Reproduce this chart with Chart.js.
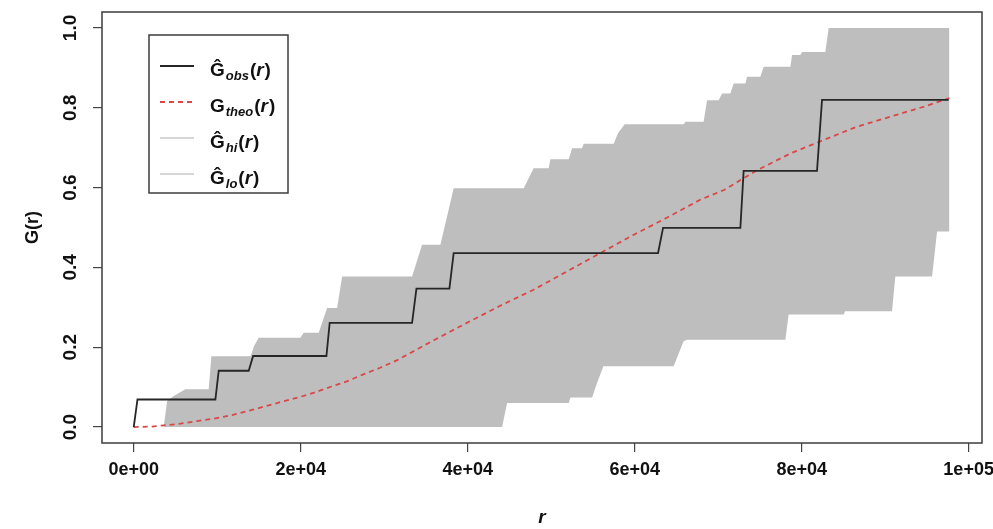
<!DOCTYPE html>
<html>
<head>
<meta charset="utf-8">
<script src="https://cdn.jsdelivr.net/npm/chart.js@4.4.1/dist/chart.umd.min.js"></script>
<style>
  html, body { margin: 0; padding: 0; background: #fff; }
  #wrap { width: 993px; height: 529px; }
</style>
</head>
<body>
<div id="wrap"><canvas id="envChart" width="993" height="529"></canvas></div>
<script>
// G-function envelope, values (r in metres)
const obsR = [0, 450, 9780, 10180, 13770, 14300, 23080, 23470, 33340, 33860, 37810, 38320, 62800, 63400, 72660, 73050, 81840, 82440, 97600];
const obsG = [0, 0.069, 0.069, 0.141, 0.141, 0.178, 0.178, 0.261, 0.261, 0.347, 0.347, 0.436, 0.436, 0.499, 0.499, 0.642, 0.642, 0.820, 0.820];

const theoR = [0, 2000, 3600, 5600, 7600, 9600, 11600, 13600, 15600, 17600, 19600, 21600, 23600, 25600, 27500, 29500, 31500,
  35900, 39900, 43900, 47900, 51900, 55900, 59900, 63900, 67900, 70700, 74700, 78700, 82600, 86600, 90600, 94600, 97700];
const theoG = [0, 0.001, 0.004, 0.0085, 0.015, 0.021, 0.029, 0.040, 0.051, 0.0625, 0.0735, 0.086, 0.101, 0.115, 0.132, 0.1485, 0.167,
  0.217, 0.261, 0.304, 0.344, 0.390, 0.436, 0.482, 0.525, 0.570, 0.594, 0.644, 0.686, 0.719, 0.7525, 0.7775, 0.8025, 0.824];

const hiR = [3590, 4000, 4790, 6190, 8980, 9300, 14000, 14400, 14970, 19960, 20360, 22160, 23160, 24360, 24960, 33340, 34540,
  36730, 38320, 46710, 47900, 49700, 49900, 52100, 52500, 53690, 53900, 57490, 58000, 58800, 65870, 66100, 68260, 68670,
  70060, 70470, 71460, 71860, 73260, 73460, 75050, 75450, 78650, 78850, 79840, 80050, 82840, 83230, 97700];
const hiG = [0, 0.065, 0.0775, 0.095, 0.095, 0.1775, 0.1775, 0.2025, 0.2235, 0.2235, 0.236, 0.236, 0.2985, 0.2985, 0.3775, 0.3775, 0.457,
  0.457, 0.5985, 0.5985, 0.6485, 0.6485, 0.671, 0.671, 0.6985, 0.6985, 0.710, 0.710, 0.736, 0.759, 0.759, 0.765, 0.765, 0.819,
  0.819, 0.836, 0.836, 0.861, 0.861, 0.8775, 0.8775, 0.9025, 0.9025, 0.932, 0.932, 0.940, 0.940, 1.0, 1.0];

const loR = [3590, 44120, 44720, 52100, 52300, 54900, 55500, 56250, 64670, 65850, 66300, 78050, 78440, 85030, 85200, 90820, 91220, 95620, 96220, 97700];
const loG = [0, 0, 0.060, 0.060, 0.074, 0.074, 0.111, 0.1525, 0.1525, 0.215, 0.219, 0.219, 0.282, 0.282, 0.290, 0.290, 0.3775, 0.3775, 0.49, 0.49];

const xTickValues = [0, 20000, 40000, 60000, 80000, 100000];
const xTickLabels = ['0e+00', '2e+04', '4e+04', '6e+04', '8e+04', '1e+05'];
const yTickValues = [0, 0.2, 0.4, 0.6, 0.8, 1.0];
const yTickLabels = ['0.0', '0.2', '0.4', '0.6', '0.8', '1.0'];

const legendSubs = ['obs', 'theo', 'hi', 'lo'];
const legendHat = [true, false, true, true];

const FONT = "'Liberation Sans', Arial, sans-serif";
const pts = (xs, ys) => xs.map((x, i) => ({ x, y: ys[i] }));

const styles = {
  obs: { color: '#262626', width: 1.8, dash: [] },
  theo: { color: '#d94848', width: 1.8, dash: [5, 4] },
  band: { color: '#bebebe', width: 1.8, dash: [], key: '#d6d6d6' }
};

// box round the plot region, R style
const frame = {
  id: 'frame',
  afterDatasetsDraw(chart) {
    const { ctx, chartArea: a } = chart;
    ctx.save();
    ctx.strokeStyle = '#3c3c3c';
    ctx.lineWidth = 1.5;
    ctx.strokeRect(a.left, a.top, a.right - a.left, a.bottom - a.top);
    ctx.restore();
  }
};

// legend with hats and subscripts
const envLegend = {
  id: 'envLegend',
  afterDraw(chart) {
    const { ctx, chartArea: a } = chart;
    const bx = a.left + 47, by = a.top + 23, bw = 139, bh = 158;
    const keys = [styles.obs, styles.theo, { ...styles.band, color: styles.band.key }, { ...styles.band, color: styles.band.key }];
    ctx.save();
    ctx.fillStyle = '#fff';
    ctx.fillRect(bx, by, bw, bh);
    ctx.strokeStyle = '#3c3c3c';
    ctx.lineWidth = 1.5;
    ctx.strokeRect(bx, by, bw, bh);
    legendSubs.forEach((sub, i) => {
      const rowY = by + 31 + i * 36;
      const k = keys[i];
      ctx.strokeStyle = k.color;
      ctx.lineWidth = k.width;
      ctx.setLineDash(k.dash);
      ctx.beginPath();
      ctx.moveTo(bx + 11, rowY);
      ctx.lineTo(bx + 45, rowY);
      ctx.stroke();
      ctx.setLineDash([]);

      let x = bx + 61;
      const base = rowY + 10;
      ctx.fillStyle = '#111';
      ctx.textBaseline = 'alphabetic';
      ctx.textAlign = 'left';
      ctx.font = 'bold 19px ' + FONT;
      const g = legendHat[i] ? 'Ĝ' : 'G';
      ctx.fillText(g, x, base); x += ctx.measureText(g).width + 1;
      ctx.font = 'italic bold 13px ' + FONT;
      ctx.fillText(sub, x, base + 4); x += ctx.measureText(sub).width + 1;
      ctx.font = 'bold 19px ' + FONT;
      ctx.fillText('(', x, base); x += ctx.measureText('(').width;
      ctx.font = 'italic bold 19px ' + FONT;
      ctx.fillText('r', x, base); x += ctx.measureText('r').width + 1;
      ctx.font = 'bold 19px ' + FONT;
      ctx.fillText(')', x, base);
    });
    ctx.restore();
  }
};

new Chart(document.getElementById('envChart'), {
  type: 'line',
  data: {
    datasets: [
      { label: 'hi', data: pts(hiR, hiG), order: 2, fill: '+1', backgroundColor: styles.band.color,
        borderColor: 'rgba(0,0,0,0)', borderWidth: 0, pointRadius: 0, tension: 0 },
      { label: 'lo', data: pts(loR, loG), order: 3, fill: false,
        borderColor: 'rgba(0,0,0,0)', borderWidth: 0, pointRadius: 0, tension: 0 },
      { label: 'theo', data: pts(theoR, theoG), order: 1, fill: false, borderColor: styles.theo.color,
        borderWidth: styles.theo.width, borderDash: styles.theo.dash, pointRadius: 0, tension: 0 },
      { label: 'obs', data: pts(obsR, obsG), order: 0, fill: false, borderColor: styles.obs.color,
        borderWidth: styles.obs.width, pointRadius: 0, tension: 0 }
    ]
  },
  options: {
    responsive: false,
    animation: false,
    devicePixelRatio: 1,
    events: [],
    layout: { padding: { top: 12, right: 11, left: 0, bottom: 0 } },
    plugins: { legend: { display: false }, tooltip: { enabled: false } },
    scales: {
      x: {
        type: 'linear', min: -3800, max: 101600,
        afterFit: s => { s.height = 86; s.paddingLeft = 0; s.paddingRight = 0; },
        afterBuildTicks: s => { s.ticks = xTickValues.map(v => ({ value: v })); },
        grid: { display: true, drawOnChartArea: false, drawTicks: true, tickLength: 9, color: '#444', lineWidth: 1.2 },
        border: { display: false },
        ticks: { autoSkip: false, maxRotation: 0, padding: 7, color: '#111',
          font: { family: FONT, size: 18, weight: 'bold' },
          callback: (v, i) => xTickLabels[i] },
        title: { display: true, text: 'r', color: '#111', padding: { top: 5, bottom: 0 },
          font: { family: FONT, size: 19, weight: 'bold', style: 'italic' } }
      },
      y: {
        type: 'linear', min: -0.04, max: 1.04,
        afterFit: s => { s.width = 102; s.paddingTop = 0; s.paddingBottom = 0; },
        afterBuildTicks: s => { s.ticks = yTickValues.map(v => ({ value: v })); },
        grid: { display: true, drawOnChartArea: false, drawTicks: true, tickLength: 9, color: '#444', lineWidth: 1.2 },
        border: { display: false },
        ticks: { autoSkip: false, minRotation: 90, maxRotation: 90, crossAlign: 'center', padding: 9, color: '#111',
          font: { family: FONT, size: 19, weight: 'bold' },
          callback: (v, i) => yTickLabels[i] },
        title: { display: true, text: 'G(r)', color: '#111', padding: { top: 22, bottom: 0 },
          font: { family: FONT, size: 18, weight: 'bold' } }
      }
    }
  },
  plugins: [frame, envLegend]
});
</script>
</body>
</html>
